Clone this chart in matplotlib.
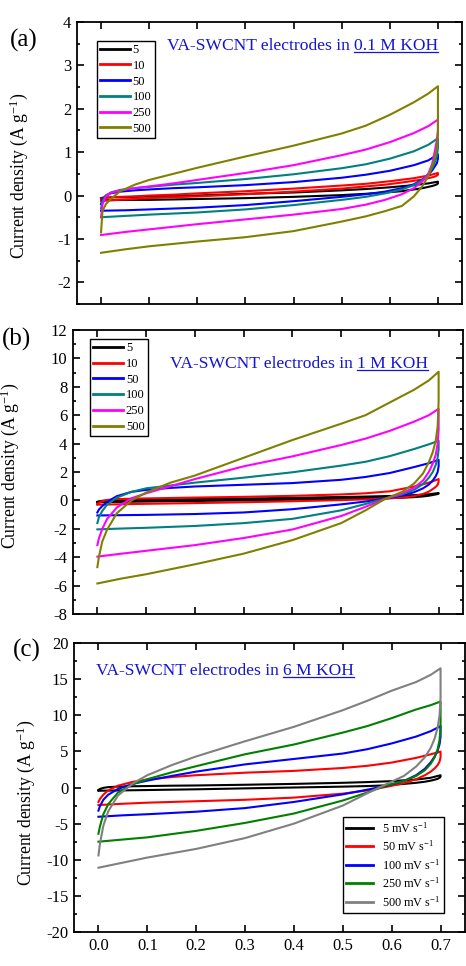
import matplotlib
matplotlib.use('Agg')
import matplotlib.pyplot as plt
from matplotlib.lines import Line2D
from matplotlib.ticker import MultipleLocator, FormatStrFormatter

plt.rcParams['font.family'] = 'Liberation Serif'
plt.rcParams['mathtext.fontset'] = 'custom'
plt.rcParams['mathtext.rm'] = 'Liberation Serif'
plt.rcParams['mathtext.it'] = 'Liberation Serif:italic'
plt.rcParams['axes.unicode_minus'] = False

# potential grid (V): forward sweep 0 -> 0.7, reverse sweep 0.7 -> 0
v_fwd = [0.0, 0.003, 0.01, 0.02, 0.04, 0.07, 0.1, 0.15, 0.2, 0.3, 0.4, 0.5, 0.55, 0.6, 0.65, 0.68, 0.7]
v_rev = [0.7, 0.698, 0.694, 0.688, 0.68, 0.668, 0.65, 0.625, 0.59, 0.55, 0.5, 0.4, 0.3, 0.2, 0.1, 0.05, 0.0]

rates_ab = ['5', '10', '50', '100', '250', '500']
colors_ab = ['#000000', '#ff0000', '#0000ff', '#008080', '#ff00ff', '#808000']
rates_c = ['5 mV s$^{-1}$', '50 mV s$^{-1}$', '100 mV s$^{-1}$', '250 mV s$^{-1}$', '500 mV s$^{-1}$']
colors_c = ['#000000', '#ff0000', '#0000ff', '#008000', '#808080']

# (a) 0.1 M KOH, current density A/g
a_fwd = [
    [-0.06, -0.05, -0.05, -0.04, -0.04, -0.03, -0.02, -0.01, 0.0, 0.04, 0.07, 0.12, 0.15, 0.19, 0.24, 0.28, 0.32],
    [-0.08, -0.06, -0.05, -0.04, -0.03, -0.02, 0.0, 0.02, 0.05, 0.1, 0.16, 0.23, 0.27, 0.33, 0.4, 0.46, 0.52],
    [-0.2, -0.08, 0.0, 0.05, 0.09, 0.12, 0.14, 0.17, 0.19, 0.24, 0.31, 0.41, 0.48, 0.57, 0.7, 0.81, 0.95],
    [-0.3, -0.12, 0.0, 0.07, 0.13, 0.17, 0.2, 0.25, 0.29, 0.38, 0.49, 0.63, 0.72, 0.85, 1.02, 1.17, 1.32],
    [-0.5, -0.2, -0.02, 0.06, 0.12, 0.17, 0.21, 0.28, 0.36, 0.52, 0.7, 0.93, 1.06, 1.23, 1.44, 1.6, 1.75],
    [-0.85, -0.35, -0.2, -0.08, 0.1, 0.25, 0.36, 0.5, 0.64, 0.9, 1.15, 1.43, 1.61, 1.86, 2.15, 2.35, 2.52],
]
a_rev = [
    [0.28, 0.26, 0.24, 0.22, 0.2, 0.17, 0.14, 0.1, 0.07, 0.04, 0.01, -0.03, -0.06, -0.08, -0.1, -0.1, -0.11],
    [0.48, 0.46, 0.44, 0.42, 0.4, 0.37, 0.34, 0.3, 0.25, 0.21, 0.16, 0.09, 0.03, -0.02, -0.06, -0.09, -0.12],
    [0.85, 0.75, 0.68, 0.58, 0.48, 0.37, 0.26, 0.17, 0.09, 0.03, -0.03, -0.13, -0.22, -0.28, -0.32, -0.34, -0.35],
    [1.1, 0.92, 0.78, 0.63, 0.5, 0.36, 0.24, 0.14, 0.05, -0.03, -0.1, -0.22, -0.32, -0.39, -0.44, -0.47, -0.5],
    [1.5, 1.3, 1.05, 0.73, 0.5, 0.33, 0.17, 0.03, -0.1, -0.21, -0.31, -0.44, -0.55, -0.66, -0.78, -0.84, -0.91],
    [1.4, 1.1, 0.9, 0.68, 0.45, 0.22, -0.02, -0.24, -0.36, -0.48, -0.6, -0.82, -0.96, -1.06, -1.17, -1.24, -1.32],
]

# (b) 1 M KOH
b_fwd = [
    [-0.1, -0.06, -0.03, 0.0, 0.02, 0.04, 0.05, 0.07, 0.09, 0.13, 0.18, 0.24, 0.27, 0.31, 0.37, 0.43, 0.52],
    [-0.25, -0.15, -0.05, 0.03, 0.09, 0.12, 0.14, 0.17, 0.2, 0.25, 0.32, 0.42, 0.5, 0.64, 0.98, 1.25, 1.5],
    [-0.85, -0.65, -0.4, -0.1, 0.3, 0.6, 0.74, 0.88, 0.98, 1.1, 1.22, 1.45, 1.65, 1.93, 2.35, 2.62, 2.85],
    [-1.6, -1.2, -0.75, -0.3, 0.2, 0.6, 0.85, 1.05, 1.25, 1.6, 1.98, 2.45, 2.72, 3.12, 3.62, 3.95, 4.2],
    [-3.15, -2.7, -2.0, -1.3, -0.5, 0.15, 0.5, 1.0, 1.5, 2.4, 3.1, 3.9, 4.35, 4.9, 5.55, 6.0, 6.45],
    [-4.7, -4.0, -2.9, -2.05, -0.9, 0.0, 0.55, 1.25, 1.75, 3.0, 4.25, 5.4, 6.0, 6.9, 7.8, 8.45, 9.06],
]
b_rev = [
    [0.48, 0.45, 0.42, 0.38, 0.33, 0.28, 0.23, 0.19, 0.15, 0.12, 0.09, 0.05, 0.0, -0.04, -0.08, -0.1, -0.12],
    [1.3, 1.1, 0.95, 0.8, 0.62, 0.45, 0.3, 0.2, 0.13, 0.07, 0.02, -0.06, -0.13, -0.19, -0.24, -0.27, -0.3],
    [2.4, 2.0, 1.7, 1.4, 1.12, 0.85, 0.58, 0.35, 0.12, -0.08, -0.28, -0.62, -0.85, -0.96, -1.02, -1.04, -1.06],
    [3.6, 3.0, 2.5, 2.0, 1.6, 1.15, 0.75, 0.42, 0.12, -0.25, -0.7, -1.3, -1.6, -1.8, -1.93, -1.98, -2.04],
    [5.0, 4.0, 3.2, 2.6, 2.0, 1.4, 0.9, 0.5, 0.1, -0.45, -1.1, -2.05, -2.65, -3.15, -3.55, -3.75, -3.96],
    [7.0, 5.2, 4.2, 3.4, 2.7, 1.9, 1.2, 0.6, 0.1, -0.7, -1.6, -2.8, -3.75, -4.5, -5.2, -5.5, -5.85],
]

# (c) 6 M KOH
c_fwd = [
    [-0.35, -0.2, -0.05, 0.05, 0.12, 0.17, 0.2, 0.25, 0.28, 0.38, 0.5, 0.65, 0.75, 0.88, 1.1, 1.35, 1.7],
    [-2.0, -1.6, -1.0, -0.4, 0.25, 0.78, 1.1, 1.45, 1.7, 2.05, 2.3, 2.7, 3.0, 3.45, 4.1, 4.6, 4.97],
    [-3.2, -2.6, -1.7, -1.0, -0.2, 0.5, 0.95, 1.6, 2.2, 3.2, 3.95, 4.7, 5.3, 6.1, 7.05, 7.8, 8.5],
    [-6.4, -5.4, -3.7, -2.3, -0.7, 0.45, 1.15, 2.1, 2.95, 4.6, 5.95, 7.6, 8.5, 9.6, 10.8, 11.4, 11.9],
    [-9.4, -7.8, -5.3, -3.3, -1.1, 0.55, 1.7, 3.1, 4.3, 6.4, 8.4, 10.7, 12.0, 13.4, 14.6, 15.6, 16.5],
]
c_rev = [
    [1.5, 1.35, 1.2, 1.08, 0.95, 0.8, 0.65, 0.5, 0.3, 0.2, 0.12, 0.0, -0.12, -0.25, -0.35, -0.4, -0.45],
    [4.2, 3.6, 3.1, 2.65, 2.2, 1.7, 1.15, 0.6, 0.1, -0.4, -0.85, -1.4, -1.7, -1.9, -2.1, -2.25, -2.43],
    [7.0, 6.0, 5.1, 4.3, 3.5, 2.6, 1.7, 0.9, 0.25, -0.3, -0.95, -2.0, -2.85, -3.35, -3.7, -3.85, -4.05],
    [8.4, 6.6, 5.3, 4.2, 3.3, 2.4, 1.6, 0.9, 0.3, -0.7, -1.8, -3.6, -4.9, -6.0, -6.9, -7.2, -7.5],
    [12.5, 10.0, 8.3, 6.8, 5.5, 4.2, 2.9, 1.6, 0.5, -0.8, -2.5, -5.0, -7.0, -8.5, -9.7, -10.4, -11.1],
]

TEXT_BLUE = '#1414d2'
W, H = 466, 966

fig = plt.figure(figsize=(W / 100, H / 100), dpi=100)


def px_axes(left, top, right, bottom):
    return fig.add_axes([left / W, 1 - bottom / H, (right - left) / W, (bottom - top) / H])


def style_axes(ax, ylim, major, minor, show_x):
    ax.set_xlim(-0.05, 0.75)
    ax.set_ylim(*ylim)
    ax.xaxis.set_major_locator(MultipleLocator(0.1))
    ax.xaxis.set_major_formatter(FormatStrFormatter('%.1f'))
    ax.yaxis.set_major_locator(MultipleLocator(major))
    ax.yaxis.set_minor_locator(MultipleLocator(minor))
    ax.yaxis.set_major_formatter(FormatStrFormatter('%d'))
    ax.tick_params(which='both', direction='in', top=True, right=True, width=1.2, labelsize=12)
    ax.tick_params(which='major', length=5, pad=4)
    ax.tick_params(which='minor', length=2.5)
    if not show_x:
        ax.tick_params(labelbottom=False)
    for s in ax.spines.values():
        s.set_linewidth(1.3)
    ax.set_ylabel('Current density (A g$^{-1}$)', fontsize=12.7)


def draw_cv(ax, fwd, rev, colors, labels):
    for i_f, i_r, col, lab in zip(fwd, rev, colors, labels):
        ax.plot(v_fwd + v_rev, i_f + i_r, color=col, lw=1.5, label=lab)


def blue_title(ax, x, y, plain, under, size=12.6):
    t1 = ax.text(x, y, plain, transform=ax.transAxes, color=TEXT_BLUE,
                 fontsize=size, va='baseline', ha='left')
    fig.canvas.draw()
    bb = t1.get_window_extent()
    gap = 0.25 * size * 100 / 72
    x2 = ax.transAxes.inverted().transform((bb.x1 + gap, bb.y0))[0]
    t2 = ax.text(x2, y, under, transform=ax.transAxes, color=TEXT_BLUE,
                 fontsize=size, va='baseline', ha='left')
    fig.canvas.draw()
    bb2 = t2.get_window_extent()
    y_base = ax.transAxes.transform((0, y))[1] - 2
    inv = fig.transFigure.inverted()
    p0 = inv.transform((bb2.x0, y_base))
    p1 = inv.transform((bb2.x1, y_base))
    fig.add_artist(Line2D([p0[0], p1[0]], [p0[1], p1[1]], color=TEXT_BLUE,
                          lw=0.9, transform=fig.transFigure))


def box_legend(ax, **kw):
    leg = ax.legend(frameon=True, fancybox=False, edgecolor='black',
                    borderaxespad=0, framealpha=1, **kw)
    leg.get_frame().set_linewidth(1.0)
    for h in leg.get_lines():
        h.set_linewidth(2.0)
    return leg


# (a)
ax_a = px_axes(77, 22, 462, 304)
draw_cv(ax_a, a_fwd, a_rev, colors_ab, rates_ab)
style_axes(ax_a, (-2.5, 4), 1, 0.5, False)
ax_a.yaxis.set_label_coords(-0.122, 0.455)
box_legend(ax_a, loc='upper left', bbox_to_anchor=(0.052, 0.933), fontsize=9,
           handlelength=2.4, handletextpad=0.2, labelspacing=0.3, borderpad=0.25)
fig.text(10 / W, 1 - 40 / H, '(a)', fontsize=18, va='center', ha='left')

# (b)
ax_b = px_axes(73, 330, 463, 614)
draw_cv(ax_b, b_fwd, b_rev, colors_ab, rates_ab)
style_axes(ax_b, (-8, 12), 2, 1, False)
ax_b.yaxis.set_label_coords(-0.134, 0.52)
box_legend(ax_b, loc='upper left', bbox_to_anchor=(0.044, 0.968), fontsize=9,
           handlelength=2.4, handletextpad=0.2, labelspacing=0.3, borderpad=0.25)
fig.text(2 / W, 1 - 339 / H, '(b)', fontsize=18, va='center', ha='left')

# (c)
ax_c = px_axes(74, 643, 465, 932)
draw_cv(ax_c, c_fwd, c_rev, colors_c, rates_c)
style_axes(ax_c, (-20, 20), 5, 2.5, True)
ax_c.yaxis.set_label_coords(-0.095, 0.446)
box_legend(ax_c, loc='lower right', bbox_to_anchor=(0.946, 0.066), fontsize=8.8,
           handlelength=2.2, handletextpad=0.7, labelspacing=0.32, borderpad=0.3)
fig.text(13 / W, 1 - 650 / H, '(c)', fontsize=18, va='center', ha='left')

blue_title(ax_a, 0.234, 0.899, 'VA-SWCNT electrodes in', '0.1 M KOH')
blue_title(ax_b, 0.249, 0.865, 'VA-SWCNT electrodes in', '1 M KOH')
blue_title(ax_c, 0.0555, 0.889, 'VA-SWCNT electrodes in', '6 M KOH')

fig.savefig('out.png', dpi=100)
